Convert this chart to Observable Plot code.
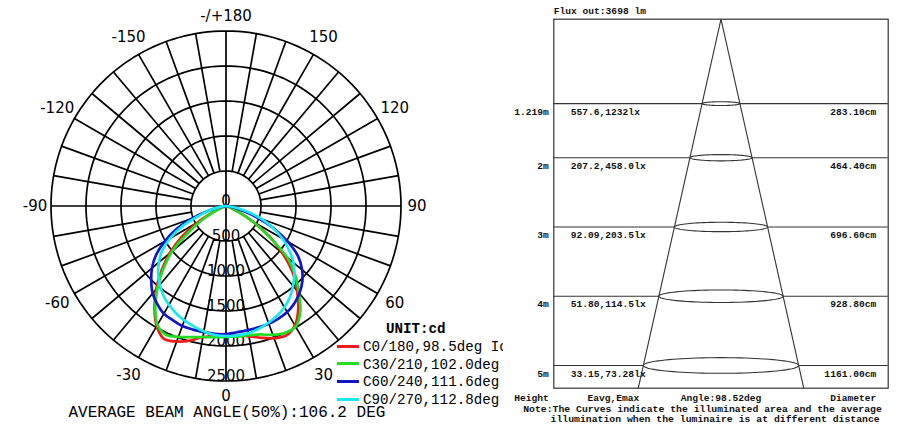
<!DOCTYPE html>
<html><head><meta charset="utf-8">
<script src="https://cdn.jsdelivr.net/npm/d3@7"></script>
<script src="https://cdn.jsdelivr.net/npm/@observablehq/plot@0.6"></script>
<style>
html,body{margin:0;padding:0;background:#fff;overflow:hidden}
#wrap{position:relative;width:900px;height:425px;overflow:hidden;background:#fff}
#left{position:absolute;left:0;top:0;width:503px;height:425px;overflow:hidden}
#right{position:absolute;left:503px;top:0;width:397px;height:425px;overflow:hidden}
.leg{position:absolute;left:337px;font:14.2px "Liberation Mono",monospace;white-space:nowrap;line-height:17.6px;height:17.6px;color:#000}
.sw{display:inline-block;width:22px;height:3px;vertical-align:middle;margin-right:4px;position:relative;top:-1px}
.unit{position:absolute;left:386px;top:321px;font:bold 14.2px "Liberation Mono",monospace;white-space:nowrap}
</style></head><body>
<div id="wrap"><div id="left"></div><div id="right"></div></div>
<script>
// ---------- polar photometric data (cd) ----------
const gamma = [0,5,10,15,20,25,30,35,40,45,50,55,60,65,70,75,80,85,90];
const c0   = [1850,1860,1890,1950,2010,2040,1970,1800,1580,1350,1060,760,440,190,70,25,8,2,0];
const c180 = [1850,1870,1900,1990,2060,2095,1980,1780,1550,1300,1050,780,470,200,70,25,8,2,0];
const c30  = [1870,1870,1875,1900,1960,2000,1990,1850,1620,1400,1140,720,430,180,65,22,8,2,0];
const c210 = [1870,1880,1900,1940,1990,2030,1960,1760,1520,1260,1000,640,380,160,60,20,8,2,0];
const c60  = [1830,1810,1800,1795,1790,1775,1750,1700,1630,1540,1420,1260,1020,750,460,220,80,20,0];
const c240 = [1830,1834,1830,1828,1825,1800,1775,1710,1630,1510,1380,1220,1010,780,510,260,90,20,0];
const c90  = [1860,1855,1845,1815,1775,1730,1670,1590,1490,1380,1260,1100,930,740,540,330,150,40,0];
const c270 = [1860,1850,1820,1780,1740,1690,1630,1560,1470,1370,1250,1110,920,690,420,250,110,30,0];
const seriesNames = ["C0/180,98.5deg Ic","C30/210,102.0deg","C60/240,111.6deg","C90/270,112.8deg"];
const seriesColors = ["#ee1b1b","#22dd22","#1414c8","#19e8f0"];
const seriesRight = [c0, c30, c60, c90];
const seriesLeft = [c180, c210, c240, c270];
const ringVals = [500,1000,1500,2000,2500];
const ringLabelVals = [0,500,1000,1500,2000,2500];
const angleVals = [-150,-120,-90,-60,-30,0,30,60,90,120,150,180];
const angleText = ["-150","-120","-90","-60","-30","0","30","60","90","120","150","-/+180"];
const unitText = "UNIT:cd";
const avgBeamText = "AVERAGE BEAM ANGLE(50%):106.2 DEG";

// ---------- cone diagram data ----------
const heights = [1.219, 2, 3, 4, 5];
const heightLabels = ["1.219m","2m","3m","4m","5m"];
const eavg = ["557.6","207.2","92.09","51.80","33.15"];
const emax = ["1232","458.0","203.5","114.5","73.28"];
const diameters = [283.10, 464.40, 696.60, 928.80, 1161.00];
const fluxOut = "3698";
const coneAngle = "98.52";
const noteLines = ["Note:The Curves indicate the illuminated area and the average",
                   "illumination when the luminaire is at different distance"];

// ---------- layout constants ----------
const PX = 0.07;            // px per cd in the polar chart
const CX = 225.5, CY = 205.5; // polar centre in px
const LW = 503, H = 425;
const rad = d => d * Math.PI / 180;
const pol = (r, a) => ({x: r * Math.sin(rad(a)), y: -r * Math.cos(rad(a))});

// ring circles
const ringPts = [];
for (const r of ringVals) for (let a = 0; a <= 360; a += 2) ringPts.push({r, ...pol(r, a)});
// spokes
const spokes = d3.range(-170, 181, 10).map(a => {
  const r0 = (a % 90 === 0) ? 0 : ringVals[0];
  const p0 = pol(r0, a), p1 = pol(ringVals[ringVals.length - 1], a);
  return {x1: p0.x, y1: p0.y, x2: p1.x, y2: p1.y};
});
// angle labels
const angleLab = angleVals.map((a, i) => {
  const rpx = (a % 180 === 0 ? 190 : 191) + 4.5 * Math.abs(Math.sin(rad(2 * a)));
  return {...pol(rpx / PX, a), t: angleText[i]};
});
const ringLab = ringLabelVals.map(v => ({x: 0, y: -v, t: String(v)}));

// curves
const curveMarks = seriesNames.map((name, s) => {
  const pts = [];
  for (let i = gamma.length - 1; i >= 0; i--) pts.push(pol(seriesLeft[s][i], -gamma[i]));
  for (let i = 1; i < gamma.length; i++) pts.push(pol(seriesRight[s][i], gamma[i]));
  return Plot.line(pts, {x: "x", y: "y", stroke: seriesColors[s], strokeWidth: 2.7, curve: "catmull-rom"});
});

const sans = "DejaVu Sans";
const left = Plot.plot({
  width: LW, height: H, margin: 0,
  x: {domain: [-CX / PX, (LW - CX) / PX], axis: null},
  y: {domain: [-(H - CY) / PX, CY / PX], axis: null},
  style: {background: "white"},
  marks: [
    Plot.line(ringPts, {x: "x", y: "y", z: "r", stroke: "black", strokeWidth: 1.7}),
    Plot.link(spokes, {x1: "x1", y1: "y1", x2: "x2", y2: "y2", stroke: "black", strokeWidth: 1.7}),
    Plot.text(ringLab, {x: "x", y: "y", text: "t", dy: -5, fontSize: 15, fontFamily: sans, fill: "black"}),
    Plot.text(angleLab, {x: "x", y: "y", text: "t", fontSize: 15, fontFamily: sans, fill: "black"}),
    ...curveMarks,
    Plot.text([avgBeamText], {frameAnchor: "top-left", lineAnchor: "middle", text: d => d, dx: 68, dy: 411, textAnchor: "start",
      fontSize: 16, fontFamily: "Liberation Mono", fill: "black"})
  ]
});
document.getElementById("left").appendChild(left);

// legend (HTML overlay, clipped with the left panel)
const leftDiv = document.getElementById("left");
const u = document.createElement("div"); u.className = "unit"; u.textContent = unitText; leftDiv.appendChild(u);
seriesNames.forEach((n, i) => {
  const d = document.createElement("div");
  d.className = "leg"; d.style.top = (339 + i * 17.6) + "px";
  const sw = document.createElement("span"); sw.className = "sw"; sw.style.background = seriesColors[i];
  d.appendChild(sw); d.appendChild(document.createTextNode(n));
  leftDiv.appendChild(d);
});

// ---------- right: cone chart ----------
const ymax = 5.328;
const slope = (diameters[diameters.length - 1] / 200) / heights[heights.length - 1];
const cone = [-1, 1].map(s => ({x1: 0, y1: 0, x2: s * slope * ymax, y2: ymax}));
const ellPts = [];
heights.forEach((h, i) => {
  const rx = diameters[i] / 200, ry = rx * 0.0195;
  for (let a = 0; a <= 360; a += 4) ellPts.push({h, x: rx * Math.cos(rad(a)), y: h + ry * Math.sin(rad(a))});
});
const rows = heights.map((h, i) => ({h, hl: heightLabels[i], e: eavg[i] + "," + emax[i] + "lx",
  d: diameters[i].toFixed(2) + "cm"}));
const mono = "Liberation Mono";
const tOpt = {fontFamily: mono, fontWeight: "bold", fontSize: 9.6, fill: "#111", lineAnchor: "middle"};
const right = Plot.plot({
  width: 397, height: H,
  marginLeft: 50.3, marginRight: 12.3, marginTop: 18.7, marginBottom: 37.3,
  x: {domain: [-12.5, 12.5], axis: null},
  y: {domain: [0, ymax], reverse: true, axis: null},
  style: {background: "white"},
  marks: [
    Plot.ruleY(heights, {stroke: "#333", strokeWidth: 1.1}),
    Plot.link(cone, {x1: "x1", y1: "y1", x2: "x2", y2: "y2", stroke: "#333", strokeWidth: 1.1}),
    Plot.line(ellPts, {x: "x", y: "y", z: "h", stroke: "#333", strokeWidth: 1.1, fill: "white"}),
    Plot.frame({stroke: "#333", strokeWidth: 1.2}),
    Plot.text(rows, {y: "h", text: "hl", frameAnchor: "left", textAnchor: "end", dx: -5, dy: 8, ...tOpt}),
    Plot.text(rows, {y: "h", text: "e", frameAnchor: "left", textAnchor: "start", dx: 17, dy: 8, ...tOpt}),
    Plot.text(rows, {y: "h", text: "d", frameAnchor: "right", textAnchor: "end", dx: -12, dy: 8, ...tOpt}),
    Plot.text(["Flux out:" + fluxOut + " lm"], {frameAnchor: "top-left", text: d => d, textAnchor: "start", dy: -8, ...tOpt}),
    Plot.text(["Height"], {frameAnchor: "bottom-left", text: d => d, textAnchor: "end", dx: -5, dy: 9.5, ...tOpt}),
    Plot.text(["Eavg,Emax"], {frameAnchor: "bottom-left", text: d => d, textAnchor: "middle", dx: 59.5, dy: 9.5, ...tOpt}),
    Plot.text(["Angle:" + coneAngle + "deg"], {frameAnchor: "bottom", text: d => d, textAnchor: "middle", dy: 9.5, ...tOpt}),
    Plot.text(["Diameter"], {frameAnchor: "bottom-right", text: d => d, textAnchor: "end", dx: -12, dy: 9.5, ...tOpt}),
    Plot.text([noteLines[0]], {frameAnchor: "bottom-left", text: d => d, textAnchor: "start", dx: -30.6, dy: 21, ...tOpt, fontSize: 9.8}),
    Plot.text([noteLines[1]], {frameAnchor: "bottom-left", text: d => d, textAnchor: "start", dx: -3.3, dy: 31, ...tOpt, fontSize: 9.8})
  ]
});
document.getElementById("right").appendChild(right);
</script>
</body></html>
